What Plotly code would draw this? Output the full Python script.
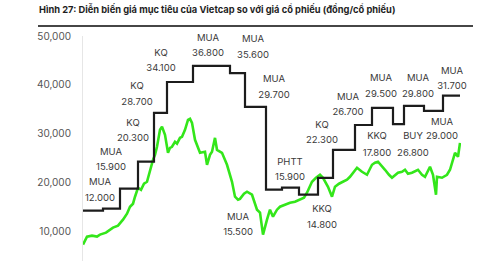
import plotly.graph_objects as go

# ---- data ----
# step line: target price (start index of each segment, value)
target_t = [0, 40, 74, 110, 142, 168, 220, 294, 324, 366, 398, 432, 470, 500, 544, 578, 620, 642, 682, 720, 754]
target_v = [14300, 14700, 18800, 24300, 34300, 40600, 43900, 42400, 35500, 18600, 19000, 17550, 21000, 26700,
            31800, 35300, 32000, 35700, 34700, 37800, 37800]

# stock price
price_t = [0, 8, 18, 28, 34, 46, 60, 70, 80, 88, 94, 100, 104, 110, 116, 122, 128, 134, 140, 144, 148, 154, 158,
           164, 170, 174, 178, 184, 188, 194, 198, 204, 210, 214, 218, 224, 230, 234, 244, 248, 254, 258, 264, 268,
           278, 288, 298, 304, 310, 314, 322, 328, 338, 348, 354, 360, 368, 374, 380, 388, 394, 404, 414, 424, 434,
           442, 448, 454, 458, 466, 474, 480, 490, 498, 504, 512, 520, 528, 534, 542, 548, 558, 568, 578, 584, 590,
           598, 604, 612, 618, 630, 638, 644, 650, 658, 670, 678, 684, 694, 700, 706, 708, 718, 728, 734, 738, 744,
           750, 754]
price_v = [7350, 8980, 9180, 8980, 9390, 9800, 10820, 11220, 12450, 13670, 15100, 15710, 17140, 18980, 18570,
           19800, 20200, 22650, 24690, 25710, 27350, 30820, 31430, 29800, 26120, 27140, 27350, 28370, 28000, 29180,
           29390, 30820, 32860, 33060, 32240, 28780, 27140, 26120, 26330, 23670, 25710, 26330, 29180, 26730, 26120,
           23670, 20200, 17140, 16530, 16700, 17760, 18160, 17550, 14490, 13880, 9390, 12450, 14490, 13060, 14490,
           15100, 15510, 15920, 16120, 16530, 16940, 17960, 19180, 20200, 21020, 21630, 21020, 19180, 17140, 19180,
           19800, 20200, 20610, 21220, 22240, 23060, 22240, 21630, 23670, 24080, 24290, 23470, 22650, 21630, 21020,
           22040, 22240, 22650, 21840, 22040, 22650, 21630, 21220, 23270, 21630, 17550, 21220, 21020, 21630, 22650,
           24080, 26120, 25310, 28160]

y_ticks = [10000, 20000, 30000, 40000, 50000]

label_names = ["MUA", "MUA", "KQ", "KQ", "KQ", "MUA", "MUA", "MUA", "MUA", "PHTT", "KKQ", "KQ", "MUA", "MUA",
               "MUA", "MUA", "KKQ", "BUY", "MUA"]
label_values = ["12.000", "15.900", "20.300", "28.700", "34.100", "36.800", "35.600", "29.700", "15.500", "15.900",
                "14.800", "22.300", "26.700", "29.500", "29.800", "31.700", "17.800", "26.800", "29.000"]
latest_name = "MUA"
latest_value = "35.300"

# label anchor positions (layout, in data units)
X_MAX = 756
label_t = [34, 56, 100, 108, 156, 250, 340, 382, 310, 414, 478, 478, 530, 596, 670, 738, 588, 660, 718]
label_name_y = [20000, 26122, 32041, 39592, 46326, 49388, 49184, 41020, 12857, 24082, 14490, 31633, 37347, 41224,
                41224, 42653, 29388, 29388, 32245]
label_value_y = [16735, 23061, 28980, 36327, 43265, 46326, 45918, 37755, 9796, 21020, 11224, 28571, 34286, 37959,
                 37959, 39592, 25918, 25918, 29388]
latest_pos_t = 796
latest_pos_y = [39184, 36122]

FONT = "Inter"
TXT = "#3a3a3a"

X_DOM = [45 / 435, 423 / 435]
Y_DOM = [0, 225 / 241]

fig = go.Figure()
fig.add_trace(go.Scatter(x=price_t, y=price_v, mode="lines",
                         line=dict(color="#33e61a", width=2.6), hoverinfo="skip"))
fig.add_trace(go.Scatter(x=target_t, y=target_v, mode="lines", line_shape="hv",
                         line=dict(color="#1c1c1c", width=2.2), hoverinfo="skip"))
# labels as text traces
fig.add_trace(go.Scatter(x=label_t + label_t, y=label_name_y + label_value_y, mode="text",
                         text=label_names + label_values, textposition="middle center", cliponaxis=False,
                         textfont=dict(family=FONT, size=9.5, color=TXT), hoverinfo="skip"))
fig.add_trace(go.Scatter(x=[latest_pos_t, latest_pos_t], y=latest_pos_y, mode="text",
                         text=[f"<b>{latest_name}</b>", f"<b>{latest_value}</b>"], textposition="middle center",
                         cliponaxis=False, textfont=dict(family=FONT, size=9.5, color="#222"), hoverinfo="skip"))
# title underline (decoration) on an invisible helper axis pair spanning the top band
fig.add_trace(go.Scatter(x=[0, 1], y=[0.625, 0.625], xaxis="x2", yaxis="y2", mode="lines",
                         line=dict(color="#3a3a3a", width=1.3), hoverinfo="skip"))

fig.update_layout(
    width=497, height=261,
    margin=dict(l=38, r=24, t=20, b=0),
    paper_bgcolor="white", plot_bgcolor="white",
    showlegend=False,
    title=dict(text="<b>Hình 27: Diễn biến giá mục tiêu của Vietcap so với giá cổ phiếu (đồng/cổ phiếu)</b>",
               x=39 / 497, xanchor="left", y=1 - 10 / 261, yanchor="middle",
               font=dict(family=FONT, size=9.3, color="#1e1e1e")),
    shapes=[dict(type="line", xref="paper", yref="paper", x0=0, x1=1, y0=1 - 6 / 241, y1=1 - 6 / 241,
                 line=dict(color="#3a3a3a", width=1.3))],
    xaxis=dict(domain=X_DOM, range=[0, X_MAX], showticklabels=False, showgrid=False, zeroline=False,
               showline=False, ticks=""),
    yaxis=dict(domain=Y_DOM, range=[4000, 50000], tickvals=y_ticks, tickformat=",d", showgrid=False,
               zeroline=False, showline=True, linecolor="#e6e6e6", linewidth=1, ticks="", ticklabelstandoff=9,
               tickfont=dict(family=FONT, size=10, color="#555")),
    xaxis2=dict(domain=[0, 1], anchor="y2", range=[0, 1], visible=False),
    yaxis2=dict(domain=[Y_DOM[1], 1], anchor="x2", range=[0, 1], visible=False),
)

fig.write_html("out.html")
